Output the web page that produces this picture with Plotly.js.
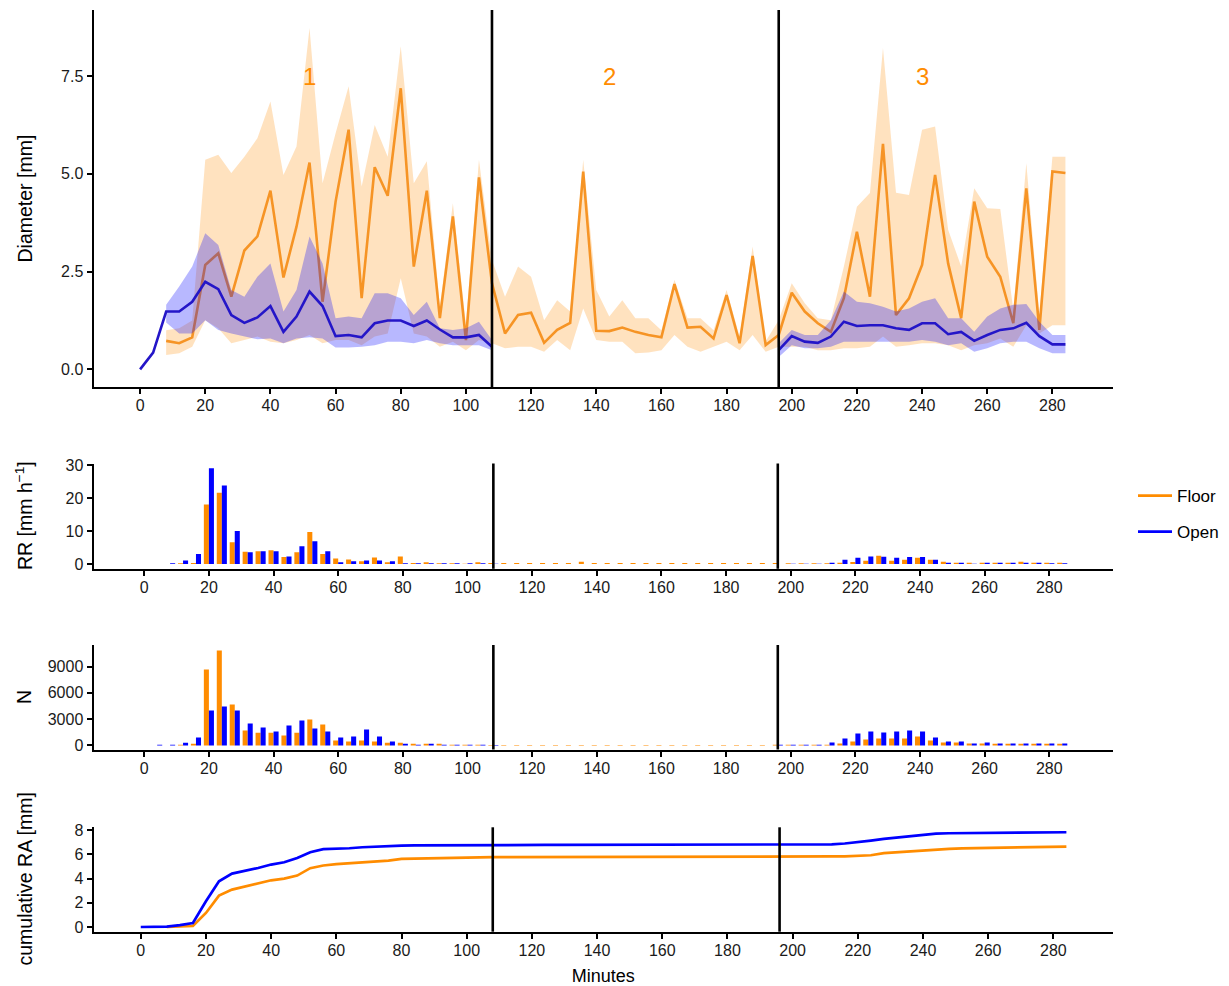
<!DOCTYPE html>
<html>
<head>
<meta charset="utf-8">
<script src="https://cdn.plot.ly/plotly-3.0.1.min.js"></script>
<style>
html,body{margin:0;padding:0;background:#ffffff;}
#chart{width:1229px;height:986px;}
</style>
</head>
<body>
<div id="chart"></div>
<script>
// ---------------- DATA ----------------
const minutes = [0,4,8,12,16,20,24,28,32,36,
  40,44,48,52,56,60,64,68,72,76,
  80,84,88,92,96,100,104,108,112,116,
  120,124,128,132,136,140,144,148,152,156,
  160,164,168,172,176,180,184,188,192,196,
  200,204,208,212,216,220,224,228,232,236,
  240,244,248,252,256,260,264,268,272,276,
  280,284];

const seriesNames = ['Floor', 'Open'];
const xTicks = [0,20,40,60,80,100,120,140,160,180,200,220,240,260,280];
const sectionBounds = [108, 196];
const sectionLabels = ['1', '2', '3'];
const sectionLabelMinute = [52, 144, 240];
const sectionLabelDiameter = [7.5, 7.5, 7.5];

// Mean drop diameter [mm]
const floorDiam = [null,null,0.73,0.67,0.82,2.67,2.97,1.86,3.04,3.40,
  4.57,2.35,3.65,5.29,1.73,4.29,6.13,1.82,5.17,4.44,
  7.19,2.63,4.57,1.31,3.91,0.75,4.91,2.20,0.92,1.39,
  1.45,0.68,1.01,1.19,5.06,0.99,0.98,1.07,0.96,0.88,
  0.82,2.18,1.07,1.09,0.79,1.90,0.67,2.90,0.62,0.88,
  1.96,1.48,1.18,0.96,1.82,3.52,1.86,5.77,1.39,1.82,
  2.67,4.97,2.71,1.31,4.29,2.88,2.37,1.18,4.63,1.01,
  5.06,5.02];
const floorUpper = [null,null,1.00,1.05,1.25,5.36,5.49,5.02,5.44,5.91,
  6.85,4.97,5.70,8.73,4.76,6.04,7.24,4.68,6.25,5.44,
  8.26,4.76,5.32,1.60,4.25,1.15,5.36,2.80,1.86,2.63,
  2.37,1.26,1.77,1.48,5.36,2.03,1.35,1.77,1.31,1.31,
  1.00,2.29,1.31,1.31,1.00,2.03,0.84,3.14,0.72,1.26,
  2.20,1.69,1.31,1.26,2.63,4.16,4.51,8.22,4.52,4.46,
  6.13,6.21,3.57,2.63,4.63,4.12,4.10,1.52,5.27,1.40,
  5.44,5.44];
const floorLower = [null,null,0.37,0.41,0.58,1.26,1.05,0.67,0.75,0.84,
  0.71,0.67,0.75,0.88,0.67,0.75,0.75,0.62,0.84,0.92,
  2.33,0.92,0.84,0.58,0.71,0.49,0.75,0.67,0.54,0.58,
  0.58,0.45,0.75,0.49,1.56,0.75,0.71,0.71,0.41,0.43,
  0.49,0.88,0.58,0.45,0.58,0.71,0.49,0.88,0.45,0.58,
  0.58,0.58,0.49,0.49,0.54,0.54,0.58,0.84,0.58,0.62,
  0.67,0.67,0.62,0.49,0.62,0.67,0.79,0.58,1.13,0.92,
  1.13,1.13];

const openDiam = [0.00,0.43,1.48,1.48,1.73,2.24,2.05,1.39,1.19,1.33,
  1.62,0.96,1.35,1.99,1.62,0.85,0.88,0.82,1.18,1.25,
  1.25,1.11,1.25,1.02,0.82,0.82,0.88,0.58,null,null,
  null,null,null,null,null,null,null,null,null,null,
  null,null,null,null,null,null,null,null,null,0.49,
  0.85,0.71,0.68,0.84,1.22,1.11,1.13,1.13,1.05,1.01,
  1.18,1.18,0.90,0.96,0.73,0.88,1.01,1.05,1.19,0.85,
  0.64,0.64];
const openUpper = [null,null,1.65,2.12,2.63,3.48,3.18,2.03,1.86,2.37,
  2.71,1.48,2.03,3.40,2.71,1.31,1.35,1.31,1.95,1.95,
  1.82,1.39,1.73,1.05,1.01,1.05,1.22,0.75,null,null,
  null,null,null,null,null,null,null,null,null,null,
  null,null,null,null,null,null,null,null,null,0.67,
  1.01,0.88,0.88,1.26,1.99,1.73,1.69,1.60,1.48,1.56,
  1.73,1.82,1.31,1.31,0.96,1.35,1.56,1.65,1.67,1.22,
  0.88,0.88];
const openLower = [null,null,1.20,0.92,0.92,1.26,1.01,0.92,0.84,0.77,
  0.79,0.67,0.79,0.82,0.79,0.56,0.56,0.58,0.62,0.71,
  0.71,0.67,0.75,0.67,0.62,0.62,0.62,0.49,null,null,
  null,null,null,null,null,null,null,null,null,null,
  null,null,null,null,null,null,null,null,null,0.32,
  0.62,0.54,0.54,0.58,0.71,0.71,0.71,0.71,0.71,0.71,
  0.75,0.71,0.62,0.67,0.45,0.54,0.67,0.71,0.71,0.54,
  0.41,0.41];

// Rain rate RR [mm h-1]
const floorRR = [null,null,0,0.2,0.3,18.0,21.6,6.6,3.7,3.9,
  4.2,2.1,3.6,9.7,3.0,1.7,1.4,0.8,2.0,0.5,
  2.3,0.3,0.5,0.2,0.2,0.1,0.5,0.3,0.3,0.3,
  0.3,0.3,0.3,0.3,0.7,0.3,0.3,0.3,0.3,0.3,
  0.3,0.3,0.3,0.3,0.3,0.3,0.3,0.3,0.3,0.3,
  0.2,0.2,0.2,0.2,0.4,0.6,1.0,2.5,1.0,1.3,
  1.9,1.3,0.7,0.4,0.4,0.4,0.4,0.4,0.7,0.4,
  0.4,0.4];
const openRR = [0,0,0.2,1.1,3.0,29.0,23.8,10.0,3.6,3.9,
  3.9,2.3,5.4,6.9,3.9,0.5,0.8,1.1,1.1,0.8,
  0.2,0.2,0.2,0.2,0.2,0.2,0.2,0.1,null,null,
  null,null,null,null,null,null,null,null,null,null,
  null,null,null,null,null,null,null,null,null,0,
  0.1,0.1,0.1,0.4,1.3,1.9,2.3,2.2,1.9,2.1,
  2.1,1.3,0.4,0.4,0.1,0.4,0.4,0.4,0.4,0.4,
  0.2,0.2];

// Drop number N
const floorN = [null,null,0,80,190,8660,10830,4670,1710,1440,
  1440,1140,1440,2960,2390,570,460,570,460,300,
  300,190,190,190,80,80,80,60,60,60,
  60,60,60,60,60,60,60,60,60,60,
  60,60,60,60,60,60,60,60,60,80,
  80,80,80,80,230,460,680,800,800,800,
  1030,570,340,340,230,230,190,190,190,190,
  190,190];
const openN = [0,80,80,300,910,3990,4450,3990,2510,2050,
  1600,2280,2850,1940,1600,910,1030,1820,1030,460,
  190,80,190,80,80,80,80,60,null,null,
  null,null,null,null,null,null,null,null,null,null,
  null,null,null,null,null,null,null,null,null,80,
  80,80,80,340,800,1370,1600,1480,1600,1710,
  1600,910,460,460,230,340,230,230,230,230,
  230,230];

// Cumulative rain amount RA [mm]
const floorCum = [null,null,0,0.03,0.08,1.16,2.59,3.09,3.34,3.61,
  3.86,4.00,4.25,4.86,5.08,5.19,5.27,5.32,5.43,5.49,
  5.63,5.66,5.68,5.70,5.72,5.74,5.76,5.77,5.77,5.77,
  5.78,5.78,5.78,5.78,5.79,5.79,5.79,5.79,5.80,5.80,
  5.80,5.80,5.81,5.81,5.81,5.81,5.82,5.82,5.82,5.82,
  5.82,5.83,5.83,5.83,5.84,5.86,5.93,6.10,6.18,6.26,
  6.34,6.43,6.46,6.49,6.51,6.53,6.55,6.57,6.59,6.61,
  6.63,6.65];
const openCum = [0,0,0.03,0.15,0.33,2.12,3.78,4.41,4.63,4.88,
  5.16,5.35,5.71,6.18,6.43,6.46,6.51,6.59,6.65,6.70,
  6.73,6.74,6.75,6.76,6.76,6.77,6.77,6.78,6.78,6.78,
  6.78,6.78,6.78,6.78,6.78,6.78,6.78,6.78,6.78,6.78,
  6.78,6.78,6.78,6.78,6.78,6.78,6.78,6.78,6.78,6.79,
  6.79,6.79,6.80,6.83,6.90,7.00,7.14,7.28,7.39,7.50,
  7.62,7.72,7.75,7.76,7.77,7.78,7.79,7.80,7.81,7.82,
  7.83,7.83];

// ---------------- STYLE ----------------
const W = 1229, H = 986;
const FONT = 'Liberation Sans, Arial, Helvetica, sans-serif';
const ORANGE = '#FF8C00';
const BLUE = '#0000FF';
const px = v => v / W;
const py = v => 1 - v / H;

function runs(vals) {
  const out = []; let cur = null;
  vals.forEach((v, i) => {
    if (v === null || v === undefined) { cur = null; }
    else { if (!cur) { cur = []; out.push(cur); } cur.push(i); }
  });
  return out;
}
function bandTraces(lo, hi, fill) {
  return runs(hi).map(r => {
    const xs = r.map(i => minutes[i]);
    const up = r.map(i => hi[i]);
    const dn = r.map(i => lo[i]);
    return {
      type: 'scatter', mode: 'lines',
      x: xs.concat(xs.slice().reverse()),
      y: up.concat(dn.slice().reverse()),
      fill: 'toself', fillcolor: fill, line: {width: 0, color: fill},
      hoverinfo: 'skip', showlegend: false, xaxis: 'x', yaxis: 'y'
    };
  });
}

const traces = [];
// Top panel: diameter
bandTraces(floorLower, floorUpper, 'rgba(255,140,0,0.25)').forEach(t => traces.push(t));
traces.push({type: 'scatter', mode: 'lines', x: minutes, y: floorDiam, name: seriesNames[0],
  line: {color: 'rgba(245,140,20,0.9)', width: 2.6}, showlegend: false, xaxis: 'x', yaxis: 'y'});
bandTraces(openLower, openUpper, 'rgba(0,0,255,0.28)').forEach(t => traces.push(t));
traces.push({type: 'scatter', mode: 'lines', x: minutes, y: openDiam, name: seriesNames[1],
  line: {color: '#2416C8', width: 2.6}, showlegend: false, xaxis: 'x', yaxis: 'y'});

// RR bars
traces.push({type: 'bar', x: minutes, y: floorRR, name: seriesNames[0], marker: {color: ORANGE},
  showlegend: false, xaxis: 'x2', yaxis: 'y2', offsetgroup: 'f'});
traces.push({type: 'bar', x: minutes, y: openRR, name: seriesNames[1], marker: {color: BLUE},
  showlegend: false, xaxis: 'x2', yaxis: 'y2', offsetgroup: 'o'});

// N bars
traces.push({type: 'bar', x: minutes, y: floorN, name: seriesNames[0], marker: {color: ORANGE},
  showlegend: false, xaxis: 'x3', yaxis: 'y3', offsetgroup: 'f'});
traces.push({type: 'bar', x: minutes, y: openN, name: seriesNames[1], marker: {color: BLUE},
  showlegend: false, xaxis: 'x3', yaxis: 'y3', offsetgroup: 'o'});

// Cumulative lines (carry the legend)
traces.push({type: 'scatter', mode: 'lines', x: minutes, y: floorCum, name: seriesNames[0],
  line: {color: ORANGE, width: 2.7}, legendgroup: 'floor', xaxis: 'x4', yaxis: 'y4'});
traces.push({type: 'scatter', mode: 'lines', x: minutes, y: openCum, name: seriesNames[1],
  line: {color: BLUE, width: 2.7}, legendgroup: 'open', xaxis: 'x4', yaxis: 'y4'});

const xDomain = [px(93.5), px(1113)];
const axisCommon = {
  showline: true, linecolor: '#000', linewidth: 2,
  ticks: 'outside', ticklen: 5, tickwidth: 2, tickcolor: '#000',
  showgrid: false, zeroline: false,
  tickfont: {family: FONT, size: 16, color: '#1a1a1a'}
};
function xax(range, anchor) {
  return Object.assign({}, axisCommon, {domain: xDomain, range: range, anchor: anchor,
    tickvals: xTicks, ticktext: xTicks.map(String), ticklabelstandoff: -2});
}
function yax(domain, range, anchor, extra) {
  return Object.assign({}, axisCommon, {domain: domain, range: range, anchor: anchor}, extra || {});
}

const shapes = [];
[['x', 'y'], ['x2', 'y2'], ['x3', 'y3'], ['x4', 'y4']].forEach(([xa, ya]) => {
  sectionBounds.forEach(b => {
    shapes.push({type: 'line', xref: xa, yref: ya + ' domain', x0: b, x1: b, y0: 0, y1: 1,
      line: {color: '#000', width: 2.6}, layer: 'above'});
  });
});

const annotations = [];
sectionLabels.forEach((lab, i) => {
  annotations.push({xref: 'x', yref: 'y', x: sectionLabelMinute[i], y: sectionLabelDiameter[i],
    text: lab, showarrow: false, xanchor: 'center', yanchor: 'middle',
    font: {family: FONT, size: 24, color: ORANGE}});
});
const yTitles = [
  ['Diameter [mm]', 198.5],
  ['RR [mm h<sup>\u22121</sup>]', 516],
  ['N', 697],
  ['cumulative RA [mm]', 879.5]
];
yTitles.forEach(([txt, y]) => {
  annotations.push({xref: 'paper', yref: 'paper', x: px(24), y: py(y), text: txt,
    textangle: -90, showarrow: false, xanchor: 'center', yanchor: 'middle',
    font: {family: FONT, size: 19.5, color: '#000'}});
});

const layout = {
  width: W, height: H,
  margin: {l: 0, r: 0, t: 0, b: 0},
  paper_bgcolor: '#fff', plot_bgcolor: 'rgba(0,0,0,0)',
  font: {family: FONT, color: '#000'},
  barmode: 'group', bargap: 0.22, bargroupgap: 0,
  showlegend: true,
  legend: {x: px(1133), xanchor: 'left', y: py(514), yanchor: 'middle',
    font: {family: FONT, size: 17, color: '#000'}, bgcolor: 'rgba(0,0,0,0)',
    traceorder: 'grouped', tracegroupgap: 11, borderwidth: 0, itemwidth: 34},
  xaxis: xax([-14.3, 298.6], 'y'),
  yaxis: yax([py(387), py(10)], [-0.45, 9.19], 'x', {tickvals: [0, 2.5, 5, 7.5], ticktext: ['0.0', '2.5', '5.0', '7.5']}),
  xaxis2: xax([-15.7, 299.7], 'y2'),
  yaxis2: yax([py(568.8), py(463.5)], [-1.45, 30.45], 'x2', {tickvals: [0, 10, 20, 30]}),
  xaxis3: xax([-15.7, 299.7], 'y3'),
  yaxis3: yax([py(749.5), py(645)], [-460, 11460], 'x3', {tickvals: [0, 3000, 6000, 9000], ticktext: ['0', '3000', '6000', '9000']}),
  xaxis4: Object.assign(xax([-14.5, 298.3], 'y4'), {title: {text: 'Minutes', standoff: 11, font: {family: FONT, size: 18, color: '#000'}}}),
  yaxis4: yax([py(931.7), py(827.3)], [-0.39, 8.24], 'x4', {tickvals: [0, 2, 4, 6, 8]}),
  shapes: shapes,
  annotations: annotations
};

Plotly.newPlot('chart', traces, layout, {displayModeBar: false, staticPlot: true});
</script>
</body>
</html>
